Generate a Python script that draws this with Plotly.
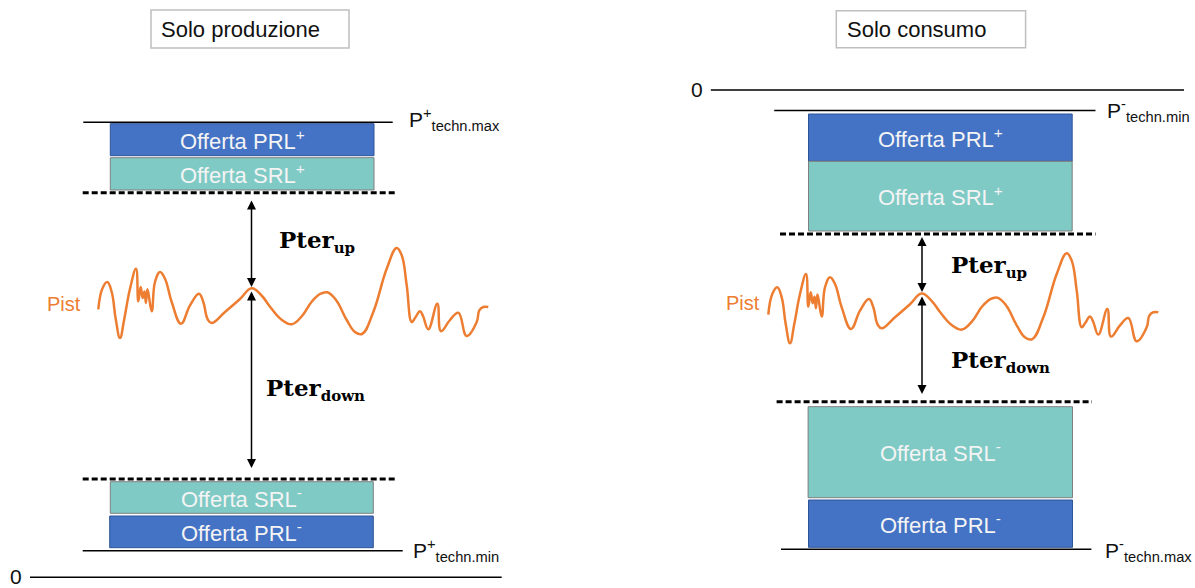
import plotly.graph_objects as go

# ---------------- data ----------------
panel_titles = ["Solo produzione", "Solo consumo"]
offer_labels = ["Offerta PRL<sup>+</sup>", "Offerta SRL<sup>+</sup>",
                "Offerta SRL<sup>-</sup>", "Offerta PRL<sup>-</sup>"]
limit_labels_left = ["P<sup>+</sup><sub>techn.max</sub>", "P<sup>+</sup><sub>techn.min</sub>"]
limit_labels_right = ["P<sup>-</sup><sub>techn.min</sub>", "P<sup>-</sup><sub>techn.max</sub>"]
margin_names = ["Pter", "Pter"]
margin_subs = ["up", "down"]
pist_label = "Pist"
zero_label = "0"

pist_x = [98.3, 102.3, 107.3, 111.7, 115.7, 120.0, 124.3, 130.0, 136.0, 138.3, 140.7,
          142.7, 144.5, 145.9, 147.5, 151.7, 155.0, 160.0, 165.0, 171.7, 181.0, 190.0,
          199.0, 203.3, 207.7, 211.7, 225.0, 240.0, 251.7, 262.0, 270.0, 282.0, 291.7,
          302.0, 311.7, 320.0, 327.3, 336.0, 346.7, 355.0, 362.0, 373.3, 386.7, 396.7,
          401.7, 406.7, 411.7, 415.0, 420.0, 423.0, 428.3, 437.3, 441.0, 450.0, 458.3,
          466.7, 476.7, 479.3, 483.3, 488.3]
pist_y = [309.3, 288.7, 282.0, 292.0, 318.7, 338.0, 318.7, 288.7, 268.7, 301.3, 287.0,
          298.0, 291.5, 303.0, 289.3, 311.3, 282.0, 272.0, 278.7, 302.0, 323.7, 305.3,
          293.7, 302.0, 319.3, 323.0, 312.0, 299.0, 288.3, 296.0, 306.7, 320.0, 324.3,
          316.0, 301.7, 294.0, 292.3, 300.0, 320.0, 332.0, 334.0, 312.0, 268.7, 248.0,
          255.3, 285.3, 322.0, 318.0, 311.3, 316.0, 329.3, 303.7, 331.3, 320.0, 312.7,
          336.0, 322.0, 310.3, 307.0, 307.0]
# the right panel shows the same profile, shifted
pist_shift = [(0.0, 0.0), (670.0, 5.3)]

# ---------------- geometry of the two panels ----------------
panels = [
    dict(
        title_box=(151, 10, 349, 48), title_x=159,
        boxes=[(110.3, 123.7, 374, 155.7), (110.3, 157.7, 374, 190),
               (110.3, 481.7, 373.3, 513.3), (109.7, 516, 373.3, 547.7)],
        solid=[(83.3, 392.7, 122.3), (82.7, 402.7, 550.7)],
        limit_pos=[(407, 119), (411, 550.5)],
        limit_labels=limit_labels_left,
        dashed=[(82.7, 396, 192.7), (82.7, 396.7, 479)],
        zero=(30, 501.7, 577.3), zero_lbl=(8, 576.7),
        arrow_x=251.5, arrows=[(199, 287), (290, 468)],
        margin_pos=[(277, 241), (263.5, 389)],
        pist_lbl=(45, 303.5),
    ),
    dict(
        title_box=(836.3, 10.7, 1025.6, 47.7), title_x=845,
        boxes=[(808.5, 114, 1072.2, 161.3), (808.5, 161.3, 1072.2, 231),
               (808.1, 406.7, 1072.5, 497.7), (808.5, 500, 1072.5, 547.3)],
        solid=[(774.2, 1095.5, 110.5), (781, 1091.4, 549.3)],
        limit_pos=[(1104.5, 110), (1102.8, 550)],
        limit_labels=limit_labels_right,
        dashed=[(780, 1095.5, 234), (776.6, 1092, 401.7)],
        zero=(710.8, 1184, 90), zero_lbl=(689, 89.3),
        arrow_x=922, arrows=[(235.5, 292), (295, 394)],
        margin_pos=[(948.5, 266), (948.5, 361)],
        pist_lbl=(723.5, 303),
    ),
]

PRL_COLOR = "#4472C4"
SRL_COLOR = "#80CAC6"
box_fill = [PRL_COLOR, SRL_COLOR, SRL_COLOR, PRL_COLOR]
box_line = ["#2F5597", "#7F7F7F", "#7F7F7F", "#2F5597"]
ORANGE = "#ED7D31"
SANS = "Liberation Sans, Arial, sans-serif"
SERIF = "DejaVu Serif, serif"

fig = go.Figure()

for i, p in enumerate(panels):
    # title box
    x0, y0, x1, y1 = p["title_box"]
    fig.add_shape(type="rect", x0=x0, y0=y0, x1=x1, y1=y1, xref="x", yref="y",
                  line=dict(color="#BFBFBF", width=1.5), fillcolor="white", layer="below")
    fig.add_annotation(x=p["title_x"], y=(y0 + y1) / 2, xref="x", yref="y", text=panel_titles[i],
                       showarrow=False, xanchor="left", yanchor="middle",
                       font=dict(family=SANS, size=22, color="#111111"))
    # offer boxes
    for k, (bx0, by0, bx1, by1) in enumerate(p["boxes"]):
        fig.add_shape(type="rect", x0=bx0, y0=by0, x1=bx1, y1=by1, xref="x", yref="y",
                      line=dict(color=box_line[k], width=1), fillcolor=box_fill[k])
        fig.add_annotation(x=(bx0 + bx1) / 2, y=(by0 + by1) / 2, xref="x", yref="y",
                           text=offer_labels[k], showarrow=False, xanchor="center", yanchor="middle",
                           font=dict(family=SANS, size=22, color="#F4F4F4"))
    # solid technical limit lines
    for (lx0, lx1, ly) in p["solid"]:
        fig.add_shape(type="line", x0=lx0, x1=lx1, y0=ly, y1=ly, xref="x", yref="y",
                      line=dict(color="black", width=1.6))
    for (tx, ty), lab in zip(p["limit_pos"], p["limit_labels"]):
        fig.add_annotation(x=tx, y=ty, xref="x", yref="y", text=lab, showarrow=False,
                           xanchor="left", yanchor="middle",
                           font=dict(family=SANS, size=21, color="#111111"))
    # dashed lines
    for (lx0, lx1, ly) in p["dashed"]:
        fig.add_shape(type="line", x0=lx0, x1=lx1, y0=ly, y1=ly, xref="x", yref="y",
                      line=dict(color="black", width=3, dash="6px,3px"))
    # zero line
    zx0, zx1, zy = p["zero"]
    fig.add_shape(type="line", x0=zx0, x1=zx1, y0=zy, y1=zy, xref="x", yref="y",
                  line=dict(color="black", width=1.6))
    fig.add_annotation(x=p["zero_lbl"][0], y=p["zero_lbl"][1], xref="x", yref="y", text=zero_label,
                       showarrow=False, xanchor="left", yanchor="middle",
                       font=dict(family=SANS, size=21, color="#111111"))
    # Pist curve
    dx, dy = pist_shift[i]
    fig.add_trace(go.Scatter(x=[v + dx for v in pist_x], y=[v + dy for v in pist_y], mode="lines",
                             line=dict(color=ORANGE, width=2.5, shape="spline", smoothing=1.2),
                             hoverinfo="skip", showlegend=False))
    fig.add_annotation(x=p["pist_lbl"][0], y=p["pist_lbl"][1], xref="x", yref="y", text=pist_label,
                       showarrow=False, xanchor="left", yanchor="middle",
                       font=dict(family=SANS, size=20, color=ORANGE))
    # double arrows
    for (ya, yb) in p["arrows"]:
        fig.add_annotation(x=p["arrow_x"], y=yb, ax=p["arrow_x"], ay=ya, xref="x", yref="y",
                           axref="x", ayref="y", text="", showarrow=True, arrowhead=2,
                           startarrowhead=2, arrowside="end+start", arrowsize=1.2,
                           startarrowsize=1.2, arrowwidth=1.5, arrowcolor="black",
                           standoff=0, startstandoff=0)
    # Pter labels
    for (tx, ty), name, sub in zip(p["margin_pos"], margin_names, margin_subs):
        txt = "<b>" + name + "<sub><span style='font-size:15px'>" + sub + "</span></sub></b>"
        fig.add_annotation(x=tx, y=ty, xref="x", yref="y", text=txt,
                           showarrow=False, xanchor="left", yanchor="middle",
                           font=dict(family=SERIF, size=23, color="black"))

fig.update_layout(
    width=1195, height=588, autosize=False,
    margin=dict(l=0, r=0, t=0, b=0),
    paper_bgcolor="white", plot_bgcolor="white",
    xaxis=dict(range=[0, 1195], visible=False, fixedrange=True),
    yaxis=dict(range=[588, 0], visible=False, fixedrange=True),
    showlegend=False,
)

fig.write_html("out.html", config={"displayModeBar": False},
               post_script="document.body.style.margin='0';document.body.style.overflow='hidden';")
